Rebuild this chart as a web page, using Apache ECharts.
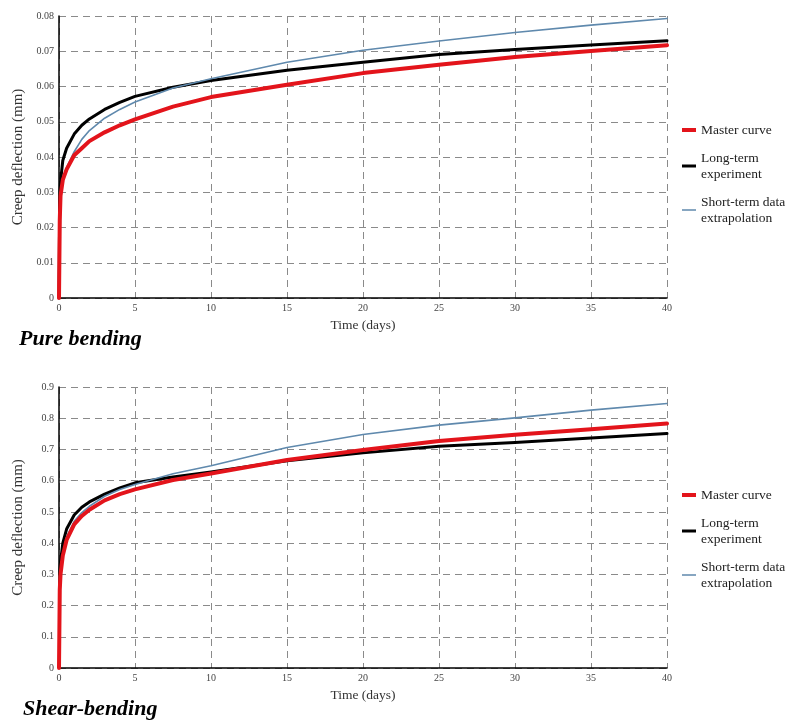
<!DOCTYPE html>
<html>
<head>
<meta charset="utf-8">
<script src="https://cdn.jsdelivr.net/npm/echarts@6/dist/echarts.min.js"></script>
<style>
html,body{margin:0;padding:0;background:#fff;}
#c{width:788px;height:720px;}
</style>
</head>
<body>
<div id="c"></div>
<script>
// ---- data ----
var days = [0, 0.05, 0.1, 0.25, 0.5, 1, 1.5, 2, 3, 4, 5, 7.5, 10, 15, 20, 25, 30, 35, 40];
var xTicks = [0, 5, 10, 15, 20, 25, 30, 35, 40];

// Pure bending
var pureMaster   = [0, 0.022, 0.029, 0.0335, 0.0365, 0.0405, 0.0425, 0.0445, 0.047, 0.049, 0.0507, 0.0543, 0.057, 0.0605, 0.0638, 0.0662, 0.0684, 0.0701, 0.0717];
var pureLongTerm = [0, 0.028, 0.033, 0.039, 0.0425, 0.0465, 0.049, 0.0508, 0.0535, 0.0555, 0.0572, 0.0598, 0.0617, 0.0646, 0.0669, 0.0691, 0.0705, 0.0718, 0.0730];
var pureShort    = [0, 0.024, 0.029, 0.034, 0.037, 0.0415, 0.045, 0.0475, 0.051, 0.0535, 0.0556, 0.0596, 0.0622, 0.0669, 0.0703, 0.0729, 0.0753, 0.0774, 0.0793];

// Shear-bending
var shearMaster   = [0, 0.25, 0.3, 0.36, 0.41, 0.46, 0.487, 0.507, 0.537, 0.557, 0.572, 0.602, 0.623, 0.666, 0.698, 0.727, 0.747, 0.765, 0.783];
var shearLongTerm = [null, 0.3, 0.34, 0.4, 0.445, 0.49, 0.515, 0.532, 0.557, 0.577, 0.593, 0.612, 0.628, 0.664, 0.689, 0.710, 0.722, 0.737, 0.751];
var shearShort    = [0, 0.25, 0.29, 0.36, 0.42, 0.47, 0.498, 0.518, 0.55, 0.572, 0.588, 0.622, 0.648, 0.706, 0.748, 0.778, 0.801, 0.826, 0.847];

var seriesNames = ['Master curve', 'Long-term experiment', 'Short-term data extrapolation'];
var legendLabels = {'Master curve': 'Master curve', 'Long-term experiment': 'Long-term\nexperiment', 'Short-term data extrapolation': 'Short-term data\nextrapolation'};
var panelTitles = ['Pure bending', 'Shear-bending'];

// ---- build ----
function pairs(vals) {
  var out = [];
  days.forEach(function (d, i) { if (vals[i] != null) out.push([d, vals[i]]); });
  return out;
}
var SERIF = "'Liberation Serif','Times New Roman',serif";
var colors = {'Master curve': '#e3141b', 'Long-term experiment': '#000000', 'Short-term data extrapolation': '#5f89ad'};
var widths = {'Master curve': 4, 'Long-term experiment': 3, 'Short-term data extrapolation': 1.6};
var icons = {'Master curve': 'path://M0,0H14V4H0Z', 'Long-term experiment': 'path://M0,0H14V3H0Z', 'Short-term data extrapolation': 'path://M0,0H14V1.5H0Z'};

function mkSeries(name, vals, gi) {
  return {
    name: name, type: 'line', xAxisIndex: gi, yAxisIndex: gi,
    data: pairs(vals), symbol: 'none', smooth: false,
    lineStyle: {color: colors[name], width: widths[name], join: 'round', cap: 'round'},
    itemStyle: {color: colors[name]},
    z: name === 'Master curve' ? 4 : (name === 'Short-term data extrapolation' ? 3 : 2),
    animation: false
  };
}

function xAx(gi) {
  return {
    type: 'value', gridIndex: gi, min: 0, max: 40, interval: 5,
    name: 'Time (days)', nameLocation: 'middle', nameGap: 20,
    nameTextStyle: {fontFamily: SERIF, fontSize: 13.5, color: '#333'},
    axisLine: {lineStyle: {color: '#000', width: 1.5}},
    axisTick: {show: false},
    axisLabel: {fontFamily: SERIF, fontSize: 10, color: '#444', margin: 5},
    splitLine: {show: true, lineStyle: {color: '#8a8a8a', type: [7, 5], width: 1}}
  };
}
function yAx(gi, max, interval) {
  return {
    type: 'value', gridIndex: gi, min: 0, max: max, interval: interval,
    name: 'Creep deflection (mm)', nameLocation: 'middle', nameGap: 33,
    nameTextStyle: {fontFamily: SERIF, fontSize: 15, color: '#333'},
    axisLine: {show: true, lineStyle: {color: '#000', width: 1.5}},
    axisTick: {show: false},
    axisLabel: {fontFamily: SERIF, fontSize: 10, color: '#444', margin: 5,
      formatter: function (v) { return String(Math.round(v * 1000) / 1000); }},
    splitLine: {show: true, lineStyle: {color: '#8a8a8a', type: [7, 5], width: 1}}
  };
}
function legend(top) {
  return {
    orient: 'vertical', left: 677, top: top, itemWidth: 14, itemHeight: 4, itemGap: 12,
    symbolKeepAspect: true,
    data: seriesNames.map(function (n) { return {name: n, icon: icons[n], itemStyle: {color: colors[n]}}; }),
    formatter: function (n) { return legendLabels[n]; },
    textStyle: {fontFamily: SERIF, fontSize: 13.5, color: '#222', lineHeight: 16},
    selectedMode: false
  };
}

var chart = echarts.init(document.getElementById('c'), null, {renderer: 'canvas'});
chart.setOption({
  backgroundColor: '#fff',
  animation: false,
  title: [
    {text: panelTitles[0], left: 14, top: 323, textStyle: {fontFamily: SERIF, fontSize: 22, fontWeight: 'bold', fontStyle: 'italic', color: '#000'}},
    {text: panelTitles[1], left: 18, top: 693, textStyle: {fontFamily: SERIF, fontSize: 22, fontWeight: 'bold', fontStyle: 'italic', color: '#000'}}
  ],
  legend: [legend(117), legend(482)],
  grid: [
    {left: 59, top: 16, width: 608, height: 282},
    {left: 59, top: 387, width: 608, height: 281}
  ],
  xAxis: [xAx(0), xAx(1)],
  yAxis: [yAx(0, 0.08, 0.01), yAx(1, 0.9, 0.1)],
  series: [
    mkSeries(seriesNames[1], pureLongTerm, 0),
    mkSeries(seriesNames[2], pureShort, 0),
    mkSeries(seriesNames[0], pureMaster, 0),
    mkSeries(seriesNames[1], shearLongTerm, 1),
    mkSeries(seriesNames[0], shearMaster, 1),
    mkSeries(seriesNames[2], shearShort, 1)
  ]
});
</script>
</body>
</html>
